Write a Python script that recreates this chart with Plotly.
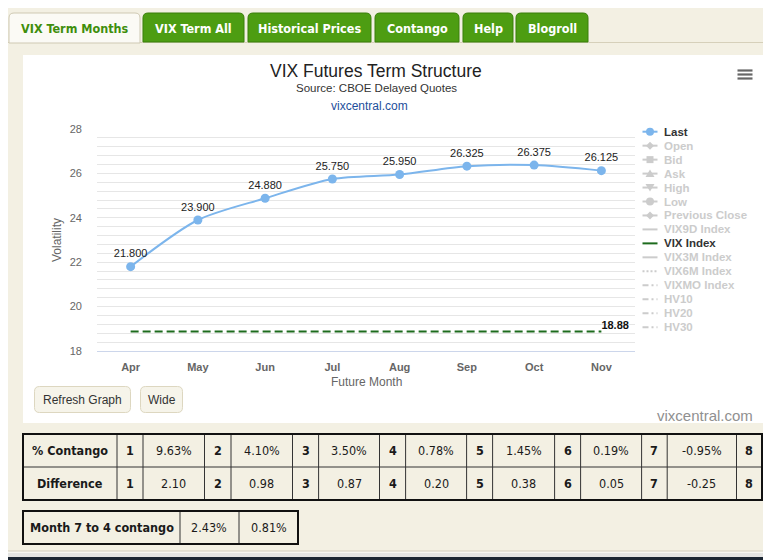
import plotly.graph_objects as go

# page is 771x560, the browser body margin puts the figure at (8, 8)
PAGE_W, PAGE_H = 771, 560
OFF = 8
W, H = PAGE_W - OFF, PAGE_H - OFF

# chart data
months = ["Apr", "May", "Jun", "Jul", "Aug", "Sep", "Oct", "Nov"]
last = [21.800, 23.900, 24.880, 25.750, 25.950, 26.325, 26.375, 26.125]
vix_index = [18.88, 18.88, 18.88, 18.88, 18.88, 18.88, 18.88, 18.88]

legend_names = ["Last", "Open", "Bid", "Ask", "High", "Low", "Previous Close",
                "VIX9D Index", "VIX Index", "VIX3M Index", "VIX6M Index",
                "VIXMO Index", "HV10", "HV20", "HV30"]
legend_active = ["Last", "VIX Index"]

# tables
tab_names = ["VIX Term Months", "VIX Term All", "Historical Prices", "Contango", "Help", "Blogroll"]
contango_months = ["1", "2", "3", "4", "5", "6", "7", "8"]
contango_pct = ["9.63%", "4.10%", "3.50%", "0.78%", "1.45%", "0.19%", "-0.95%"]
contango_diff = ["2.10", "0.98", "0.87", "0.20", "0.38", "0.05", "-0.25"]
month7to4 = ["2.43%", "0.81%"]

BLUE = "#7cb5ec"
DKGREEN = "#1d6b1d"
BEIGE = "#f3f0e3"
GREY_TXT = "#666666"
NARROW = "DejaVu Sans Condensed, Liberation Sans Narrow, sans-serif"
SANS = "Liberation Sans, Arial, sans-serif"


def px(x):
    return (x - OFF) / W


def py(y):
    return 1 - (y - OFF) / H


def box(x0, y0, x1, y1, fill, line=None, lw=1, layer="below"):
    return dict(type="rect", xref="paper", yref="paper", layer=layer,
                x0=px(x0), x1=px(x1), y0=py(y1), y1=py(y0), fillcolor=fill,
                line=dict(color=line if line else fill, width=lw if line else 0))


def hline(x0, x1, y, color, lw=1, dash="solid", layer="above"):
    return dict(type="line", xref="paper", yref="paper", layer=layer,
                x0=px(x0), x1=px(x1), y0=py(y), y1=py(y),
                line=dict(color=color, width=lw, dash=dash))


def vline(x, y0, y1, color, lw=1):
    return dict(type="line", xref="paper", yref="paper",
                x0=px(x), x1=px(x), y0=py(y0), y1=py(y1),
                line=dict(color=color, width=lw))


def rounded(x0, y0, x1, y1, r, fill, line, lw=1, top_only=False, layer="below"):
    p = lambda x, y: f"{px(x):.5f},{py(y):.5f}"
    rb = 0 if top_only else r
    path = (f"M {p(x0, y0 + r)} Q {p(x0, y0)} {p(x0 + r, y0)} L {p(x1 - r, y0)} "
            f"Q {p(x1, y0)} {p(x1, y0 + r)} L {p(x1, y1 - rb)} "
            f"Q {p(x1, y1)} {p(x1 - rb, y1)} L {p(x0 + rb, y1)} "
            f"Q {p(x0, y1)} {p(x0, y1 - rb)} Z")
    return dict(type="path", xref="paper", yref="paper", path=path, layer=layer,
                fillcolor=fill, line=dict(color=line, width=lw))


def poly(pts, fill):
    path = "M " + " L ".join(f"{px(x):.5f},{py(y):.5f}" for x, y in pts) + " Z"
    return dict(type="path", xref="paper", yref="paper", path=path,
                fillcolor=fill, line=dict(color=fill, width=0))


def text(x, y, s, size=12, color="#333", family=SANS, anchor="center", bold=False, **kw):
    return dict(x=px(x), y=py(y), xref="paper", yref="paper", text=s, showarrow=False,
                xanchor=anchor, yanchor="middle",
                font=dict(size=size, color=color, family=family,
                          weight="bold" if bold else "normal"), **kw)


fig = go.Figure()

fig.add_trace(go.Scatter(
    x=months, y=last, name="Last", mode="lines+markers+text",
    line=dict(color=BLUE, width=2, shape="spline", smoothing=0.8),
    marker=dict(color=BLUE, size=9),
    texttemplate="%{y:.3f}", textposition="top center",
    textfont=dict(size=11, color="#222", family=SANS),
    cliponaxis=False, showlegend=False))

vix_labels = [""] * (len(vix_index) - 1) + [f"{vix_index[-1]:.2f}"]
fig.add_trace(go.Scatter(
    x=months, y=vix_index, name="VIX Index", mode="lines+text",
    line=dict(color=DKGREEN, width=2, dash="8px,4px"),
    text=vix_labels, textposition="top right",
    textfont=dict(size=11, color="#111", family=SANS, weight="bold"),
    cliponaxis=False, showlegend=False))

shapes = []
ann = []

# page frame
shapes.append(box(0, 0, PAGE_W, PAGE_H, "#f7f6f0"))
shapes.append(rounded(3, 4, 769, 551, 6, BEIGE, "#d3cebd"))
shapes.append(box(0, 553, PAGE_W, 557, "#e4e4e2"))
shapes.append(box(0, 557, PAGE_W, PAGE_H, "#1b2532"))
shapes.append(hline(4, 768, 42.5, "#d6d0ba", layer="below"))

# tabs
tab_x = [(9, 140), (143, 244), (248, 371), (375, 459), (463, 513), (516, 588)]
for i, (name, (x0, x1)) in enumerate(zip(tab_names, tab_x)):
    if i == 0:
        shapes.append(rounded(x0, 13, x1, 43, 5, "#fbfaf5", "#cfc9b3", top_only=True))
        ann.append(text((x0 + x1) / 2, 28.5, name, 12.5, "#3f8e0c", NARROW, bold=True))
    else:
        shapes.append(rounded(x0, 13, x1, 42, 5, "#4d9d12", "#3a7f0b", top_only=True))
        ann.append(text((x0 + x1) / 2, 28.5, name, 12.5, "white", NARROW, bold=True))

# white chart panel
shapes.append(box(23, 55, 764, 423, "white"))

# hamburger menu
for yy in (70.5, 74.5, 78.5):
    shapes.append(hline(737.5, 752.5, yy, "#666", lw=2.2))

# titles
ann.append(text(376, 71, "VIX Futures Term Structure", 17.5, "#222", SANS))
ann.append(text(376, 88, "Source: CBOE Delayed Quotes", 11.5, "#333", SANS))
ann.append(text(369, 106, "vixcentral.com", 12, "#1d4f9c", SANS))
ann.append(text(755, 415, "vixcentral.com", 15, "#909090", SANS, anchor="right"))

# axis titles
ann.append(text(57, 240, "Volatility", 12, GREY_TXT, SANS, textangle=-90))
ann.append(text(366, 382, "Future Month", 12, GREY_TXT, SANS))

# legend
for i, name in enumerate(legend_names):
    yy = 131.7 + 13.96 * i
    on = name in legend_active
    col = "#cccccc"
    if name == "Last":
        col = BLUE
    elif name == "VIX Index":
        col = DKGREEN
    dash = "solid"
    if name == "VIX6M Index":
        dash = "2px,2px"
    elif name in ("VIXMO Index", "HV10", "HV20", "HV30"):
        dash = "6px,3px,2px,3px"
    shapes.append(hline(642.5, 657.5, yy, col, lw=2, dash=dash))
    cx = 650
    if name in ("Last", "Low"):
        shapes.append(dict(type="circle", xref="paper", yref="paper",
                           x0=px(cx - 4), x1=px(cx + 4), y0=py(yy + 4), y1=py(yy - 4),
                           fillcolor=col, line=dict(width=0)))
    elif name == "Bid":
        shapes.append(box(cx - 3.5, yy - 3.5, cx + 3.5, yy + 3.5, col, layer="above"))
    elif name == "Ask":
        shapes.append(poly([(cx, yy - 4), (cx + 4.5, yy + 3.5), (cx - 4.5, yy + 3.5)], col))
    elif name == "High":
        shapes.append(poly([(cx, yy + 4), (cx + 4.5, yy - 3.5), (cx - 4.5, yy - 3.5)], col))
    elif name in ("Open", "Previous Close"):
        shapes.append(poly([(cx, yy - 4), (cx + 4, yy), (cx, yy + 4), (cx - 4, yy)], col))
    ann.append(text(662, yy, name, 11.5, "#333" if on else "#cccccc", SANS,
                    anchor="left", bold=True))

# buttons
shapes.append(rounded(34.5, 386.5, 130.5, 412.5, 5, "#f6f4ea", "#ddd7c0"))
shapes.append(rounded(140.5, 386.5, 182.5, 412.5, 5, "#f6f4ea", "#ddd7c0"))
ann.append(text(82.5, 399.5, "Refresh Graph", 12, "#333", SANS))
ann.append(text(161.5, 399.5, "Wide", 12, "#333", SANS))

# contango table
col_x = [23, 117, 143, 204.5, 231, 292.5, 318.6, 379.5, 405.6, 466.6, 492.6,
         554.6, 580.6, 641.6, 667.2, 736.5, 762]
row_y = [434, 467, 500]
rows = [("% Contango", contango_pct), ("Difference", contango_diff)]
for r, (label, vals) in enumerate(rows):
    yc = (row_y[r] + row_y[r + 1]) / 2
    cells = [label]
    for k in range(len(vals)):
        cells += [contango_months[k], vals[k]]
    cells.append(contango_months[-1])
    for c, s in enumerate(cells):
        xc = (col_x[c] + col_x[c + 1]) / 2
        bold = c == 0 or c % 2 == 1
        ann.append(text(xc, yc, s, 12.5, "#1a1a1a", NARROW, bold=bold))
for xx in col_x[1:-1]:
    shapes.append(vline(xx, row_y[0], row_y[-1], "#333"))
shapes.append(hline(col_x[0], col_x[-1], row_y[1], "#333"))
shapes.append(dict(type="rect", xref="paper", yref="paper", x0=px(col_x[0]), x1=px(col_x[-1]),
                   y0=py(row_y[-1]), y1=py(row_y[0]), line=dict(color="#111", width=2)))

# month 7 to 4 table
m_x = [23, 180, 239, 298]
m_y = [511, 544]
for c, s in enumerate(["Month 7 to 4 contango"] + month7to4):
    ann.append(text((m_x[c] + m_x[c + 1]) / 2, (m_y[0] + m_y[1]) / 2, s, 12.5, "#1a1a1a",
                    NARROW, bold=c == 0))
for xx in m_x[1:-1]:
    shapes.append(vline(xx, m_y[0], m_y[1], "#333"))
shapes.append(dict(type="rect", xref="paper", yref="paper", x0=px(m_x[0]), x1=px(m_x[-1]),
                   y0=py(m_y[1]), y1=py(m_y[0]), line=dict(color="#111", width=2)))

fig.update_layout(
    width=W, height=H, autosize=False,
    margin=dict(l=0, r=0, t=0, b=0, pad=0, autoexpand=False),
    paper_bgcolor="#f7f6f0", plot_bgcolor="white",
    showlegend=False,
    shapes=shapes, annotations=ann,
    xaxis=dict(domain=[px(97), px(635)], type="category", range=[-0.5, 7.5],
               automargin=False,
               showgrid=False, showline=True, linecolor="#ccd6eb", linewidth=1,
               zeroline=False, ticklabelstandoff=6, fixedrange=True,
               tickfont=dict(size=11, color=GREY_TXT, family=SANS, weight="bold")),
    yaxis=dict(domain=[py(351), py(129)], range=[18, 28], dtick=2,
               automargin=False,
               showgrid=True, gridcolor="#e6e6e6", zeroline=False, fixedrange=True,
               ticklabelstandoff=14,
               minor=dict(dtick=0.4, showgrid=True, gridcolor="#e6e6e6"),
               tickfont=dict(size=11, color=GREY_TXT, family=SANS)),
)

fig.write_html("out.html")
